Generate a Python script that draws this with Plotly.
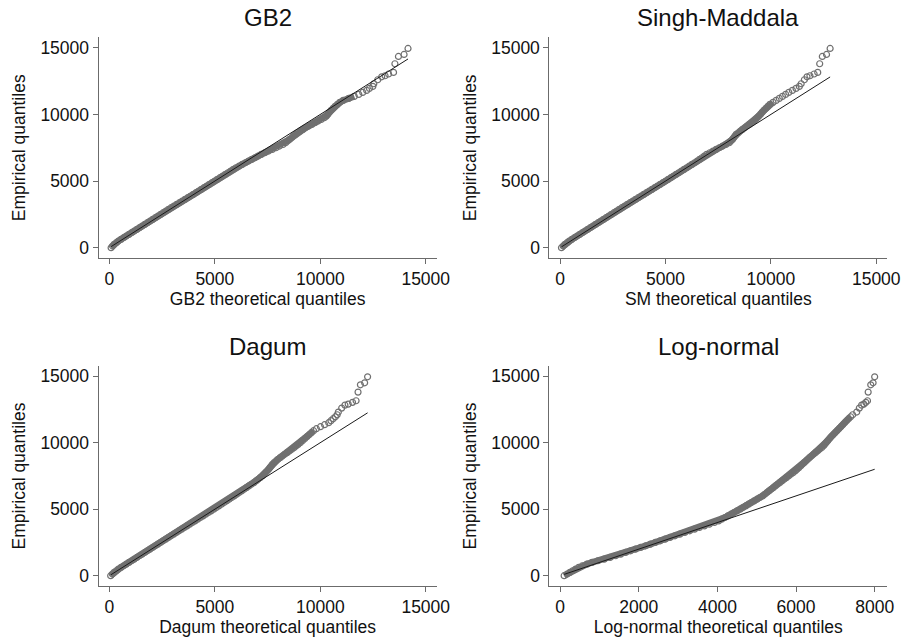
import plotly.graph_objects as go

# Shared empirical quantiles (y values)
empirical_q = [0, 125, 250, 375, 500, 625, 750, 875, 1000, 1125, 1250, 1375, 1500, 1625, 1750, 1875,
               2000, 2125, 2250, 2375, 2500, 2625, 2750, 2875, 3000, 3125, 3250, 3375, 3500, 3625, 3750, 3875,
               4000, 4125, 4250, 4375, 4500, 4625, 4750, 4875, 5000, 5125, 5250, 5375, 5500, 5625, 5750, 5875,
               6000, 6125, 6250, 6375, 6500, 6625, 6750, 6875, 7000, 7125, 7250, 7375, 7500, 7625, 7750, 7875,
               8000, 8125, 8250, 8375, 8500, 8625, 8750, 8875, 9000, 9125, 9250, 9375, 9500, 9625, 9750, 9875,
               10000, 10150, 10300, 10450, 10600, 10750, 10900, 11050, 11200, 11350, 11500, 11650, 11800, 11950, 12100,
               12300, 12600, 12820, 12900, 13030, 13150, 13800, 14350, 14500, 14950]

gb2_q = [80, 150, 220, 323, 425, 550, 675, 800, 925, 1050, 1175, 1300, 1425, 1550, 1675, 1800,
         1925, 2050, 2175, 2300, 2425, 2550, 2675, 2800, 2925, 3056, 3188, 3319, 3450, 3581, 3712, 3844,
         3975, 4102, 4228, 4355, 4481, 4608, 4734, 4861, 4988, 5114, 5241, 5367, 5494, 5620, 5747, 5873,
         6000, 6150, 6300, 6450, 6600, 6750, 6900, 7050, 7200, 7375, 7550, 7725, 7900, 8067, 8233, 8356,
         8450, 8544, 8638, 8731, 8825, 8925, 9050, 9175, 9300, 9450, 9600, 9750, 9900, 10046, 10192, 10287,
         10350, 10425, 10512, 10606, 10700, 10812, 10925, 11087, 11350, 11612, 11825, 12012, 12200, 12330, 12490,
         12538, 12725, 12912, 13071, 13239, 13473, 13538, 13706, 13972, 14160]

sm_q = [60, 140, 220, 323, 425, 550, 675, 800, 925, 1050, 1175, 1300, 1425, 1550, 1675, 1800,
        1925, 2050, 2175, 2300, 2425, 2550, 2675, 2800, 2925, 3055, 3184, 3314, 3444, 3573, 3703, 3833,
        3962, 4092, 4222, 4352, 4481, 4611, 4741, 4870, 5000, 5125, 5250, 5375, 5500, 5625, 5750, 5875,
        6000, 6125, 6250, 6375, 6500, 6612, 6725, 6838, 6950, 7100, 7250, 7400, 7550, 7708, 7867, 8025,
        8100, 8175, 8233, 8292, 8350, 8450, 8550, 8650, 8750, 8863, 8975, 9087, 9200, 9275, 9350, 9425,
        9500, 9578, 9662, 9758, 9854, 9950, 10100, 10250, 10400, 10550, 10700, 10850, 11021, 11193, 11350,
        11436, 11589, 11714, 11853, 12052, 12223, 12316, 12441, 12640, 12811]

dagum_q = [60, 140, 220, 323, 425, 550, 675, 800, 925, 1050, 1175, 1300, 1425, 1550, 1675, 1800,
           1925, 2050, 2175, 2300, 2425, 2550, 2675, 2800, 2925, 3052, 3178, 3305, 3431, 3558, 3684, 3811,
           3938, 4064, 4191, 4317, 4444, 4570, 4697, 4823, 4950, 5071, 5192, 5314, 5435, 5556, 5678, 5799,
           5920, 6036, 6152, 6269, 6385, 6501, 6617, 6734, 6850, 6950, 7050, 7150, 7250, 7325, 7400, 7475,
           7550, 7610, 7670, 7730, 7810, 7900, 7992, 8096, 8200, 8312, 8425, 8537, 8650, 8750, 8850, 8950,
           9050, 9155, 9260, 9365, 9470, 9575, 9680, 9815, 10010, 10205, 10400, 10505, 10610, 10715, 10800,
           10855, 11014, 11168, 11323, 11528, 11697, 11790, 11902, 12103, 12243]

lognormal_q = [100, 175, 245, 315, 390, 470, 560, 680, 810, 960, 1120, 1270, 1410, 1540, 1665, 1790,
               1915, 2045, 2170, 2295, 2420, 2545, 2670, 2795, 2920, 3045, 3170, 3295, 3420, 3545, 3670, 3795,
               3925, 4031, 4110, 4188, 4266, 4345, 4423, 4502, 4580, 4651, 4723, 4794, 4865, 4936, 5008, 5079,
               5150, 5204, 5258, 5312, 5367, 5421, 5475, 5529, 5585, 5641, 5698, 5754, 5810, 5866, 5923, 5979,
               6026, 6071, 6116, 6161, 6206, 6251, 6296, 6341, 6391, 6443, 6494, 6546, 6597, 6649, 6694, 6729,
               6764, 6806, 6848, 6890, 6940, 6990, 7040, 7090, 7139, 7187, 7235, 7284, 7335, 7388, 7440,
               7543, 7610, 7668, 7725, 7775, 7818, 7835, 7900, 7960, 8000]

panel_titles = ["GB2", "Singh-Maddala", "Dagum", "Log-normal"]
x_titles = ["GB2 theoretical quantiles", "SM theoretical quantiles",
            "Dagum theoretical quantiles", "Log-normal theoretical quantiles"]
y_title = "Empirical quantiles"
x_ticks_wide = [0, 5000, 10000, 15000]
x_ticks_ln = [0, 2000, 4000, 6000, 8000]
y_ticks = [0, 5000, 10000, 15000]

W, H = 914, 637
# panel pixel boxes: (left, right, top, bottom)
boxes = [(100, 443, 37.3, 258.3), (557.3, 900, 37.3, 258.3),
         (100, 443, 365.7, 586.3), (557.3, 900, 365.7, 586.3)]
x_ranges = [[-514, 15520], [-514, 15520], [-514, 15520], [-276, 8319]]
y_range = [-795, 15785]
# below these empirical levels the circles overlap into a solid band
dense_max = [11350, 10900, 10900, 11950]

FONT = "Liberation Sans, Arial, Helvetica, sans-serif"
AX = "#6b6b6b"
PT = "#707070"

fig = go.Figure()
theo = [gb2_q, sm_q, dagum_q, lognormal_q]
for i in range(4):
    xa = "x" if i == 0 else f"x{i+1}"
    ya = "y" if i == 0 else f"y{i+1}"
    dense = [(xv, yv) for xv, yv in zip(theo[i], empirical_q) if yv <= dense_max[i]]
    fig.add_trace(go.Scatter(x=[d[0] for d in dense], y=[d[1] for d in dense], mode="lines",
                             xaxis=xa, yaxis=ya, line=dict(color=PT, width=6.5),
                             showlegend=False, hoverinfo="skip"))
    fig.add_trace(go.Scatter(x=theo[i], y=empirical_q, mode="markers", xaxis=xa, yaxis=ya,
                             marker=dict(symbol="circle-open", size=6, color=PT, line=dict(width=1.2, color=PT)),
                             showlegend=False, hoverinfo="skip"))
    lo, hi = min(theo[i]), max(theo[i])
    fig.add_trace(go.Scatter(x=[lo, hi], y=[lo, hi], mode="lines", xaxis=xa, yaxis=ya,
                             line=dict(color="#1a1a1a", width=1), showlegend=False, hoverinfo="skip"))

layout = dict(width=W, height=H, margin=dict(l=0, r=0, t=0, b=0),
              paper_bgcolor="white", plot_bgcolor="white",
              font=dict(family=FONT, color="#111111", size=17.5))
ann = []
for i, (l, r, t, b) in enumerate(boxes):
    sx = "" if i == 0 else str(i + 1)
    xt = x_ticks_ln if i == 3 else x_ticks_wide
    layout["xaxis" + sx] = dict(domain=[l / W, r / W], range=x_ranges[i], anchor="y" + sx,
                                showline=True, linecolor=AX, linewidth=1, ticks="outside", ticklen=5,
                                tickcolor=AX, tickwidth=1, showgrid=False, zeroline=False,
                                tickvals=xt, tickformat="d", tickfont=dict(size=17.5, family=FONT),
                                title=dict(text=x_titles[i], standoff=0, font=dict(size=17.5, family=FONT)))
    layout["yaxis" + sx] = dict(domain=[1 - b / H, 1 - t / H], range=y_range, anchor="x" + sx,
                                showline=True, linecolor=AX, linewidth=1, ticks="outside", ticklen=5,
                                tickcolor=AX, tickwidth=1, showgrid=False, zeroline=False,
                                tickvals=y_ticks, tickformat="d", tickfont=dict(size=17.5, family=FONT),
                                title=dict(text=y_title, standoff=10, font=dict(size=17.5, family=FONT)))
    cy = 17.7 if i < 2 else 346.3
    ann.append(dict(text=panel_titles[i], x=(l + r) / 2 / W, y=1 - cy / H, xref="paper", yref="paper",
                    xanchor="center", yanchor="middle", showarrow=False,
                    font=dict(size=24, family=FONT, color="#111111")))
layout["annotations"] = ann
fig.update_layout(**layout)
fig.write_html("out.html", config={"displayModeBar": False, "staticPlot": True},
               post_script="document.body.style.margin='0';document.body.style.overflow='hidden';")
